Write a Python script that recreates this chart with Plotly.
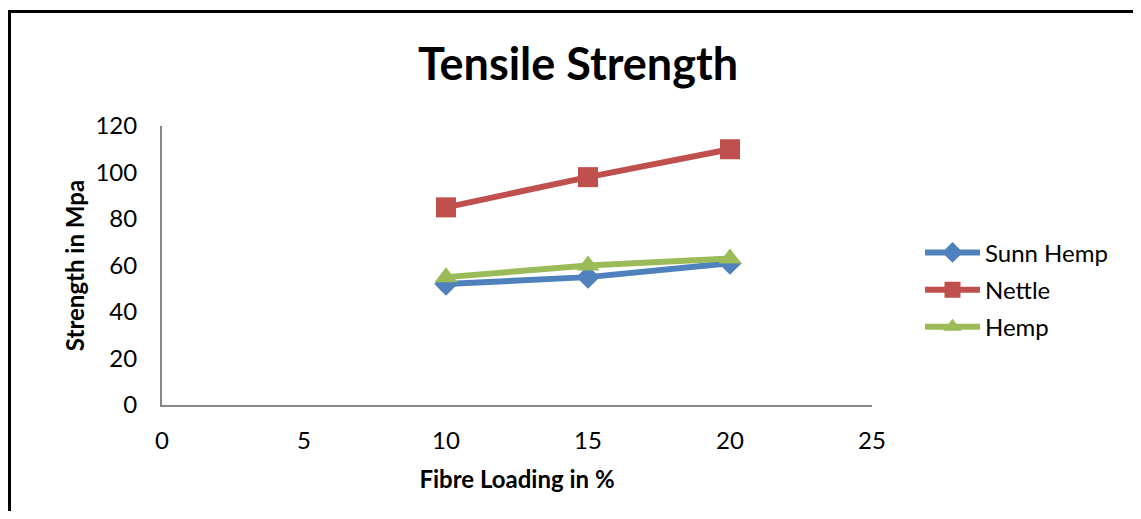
import plotly.graph_objects as go

fibre_loading = [10, 15, 20]
sunn_hemp = [52, 55, 61]
nettle = [85, 98, 110]
hemp = [55, 60, 63]

x_ticks = [0, 5, 10, 15, 20, 25]
y_ticks = [0, 20, 40, 60, 80, 100, 120]

FONT = "Lato"

# page body has an 8px margin; figure coordinates below compensate for it
L, T = 154, 118          # plot area left/top inside the figure
PW, PH = 710, 279        # plot area size
W, H = 1133, 503         # keep page from overflowing the 1141x519 window

fig = go.Figure()
fig.add_trace(go.Scatter(x=fibre_loading, y=sunn_hemp, name="Sunn Hemp", mode="lines+markers",
                         legendgroup="a",
                         line=dict(color="#4F81BD", width=6),
                         marker=dict(symbol="diamond", size=18, color="#4F81BD")))
fig.add_trace(go.Scatter(x=fibre_loading, y=nettle, name="Nettle", mode="lines+markers",
                         legendgroup="b",
                         line=dict(color="#C0504D", width=6),
                         marker=dict(symbol="square", size=20, color="#C0504D")))
fig.add_trace(go.Scatter(x=fibre_loading, y=hemp, name="Hemp", mode="lines+markers",
                         legendgroup="c",
                         line=dict(color="#9BBB59", width=6),
                         marker=dict(symbol="triangle-up", size=20, color="#9BBB59")))

fig.update_layout(
    width=W, height=H,
    margin=dict(l=L, r=W - L - PW, t=T, b=H - T - PH),
    paper_bgcolor="white", plot_bgcolor="white",
    font=dict(family=FONT, size=24, color="black"),
    title=dict(text="<b>Tensile Strength</b>", x=570/W, xanchor="center",
               y=1-56/H, yanchor="middle", font=dict(size=45, family=FONT)),
    showlegend=True,
    legend=dict(x=(912-L)/PW, y=0.626, xanchor="left", yanchor="top",
                font=dict(size=24, family=FONT), itemwidth=55,
                tracegroupgap=3, bgcolor="rgba(0,0,0,0)"),
    xaxis=dict(range=[0, 25], tickvals=x_ticks, showgrid=False, zeroline=False,
               showline=True, linecolor="#868686", linewidth=2, ticks="",
               ticklabelstandoff=13, tickfont=dict(size=24),
               title=dict(text="<b>Fibre Loading in %</b>", font=dict(size=24), standoff=18)),
    yaxis=dict(range=[0, 120], tickvals=y_ticks, showgrid=False, zeroline=False,
               showline=True, linecolor="#868686", linewidth=2, ticks="",
               ticklabelstandoff=18, tickfont=dict(size=24),
               title=dict(text="<b>Strength in Mpa</b>", font=dict(size=24), standoff=4)),
)

fig.add_shape(type="rect", xref="paper", yref="paper",
              x0=(1.5-L)/PW, x1=(1160-L)/PW,
              y0=(T+PH-530)/PH, y1=(T+PH-3.5)/PH,
              line=dict(color="black", width=3), fillcolor="rgba(0,0,0,0)", layer="below")

fig.write_html("out.html")
